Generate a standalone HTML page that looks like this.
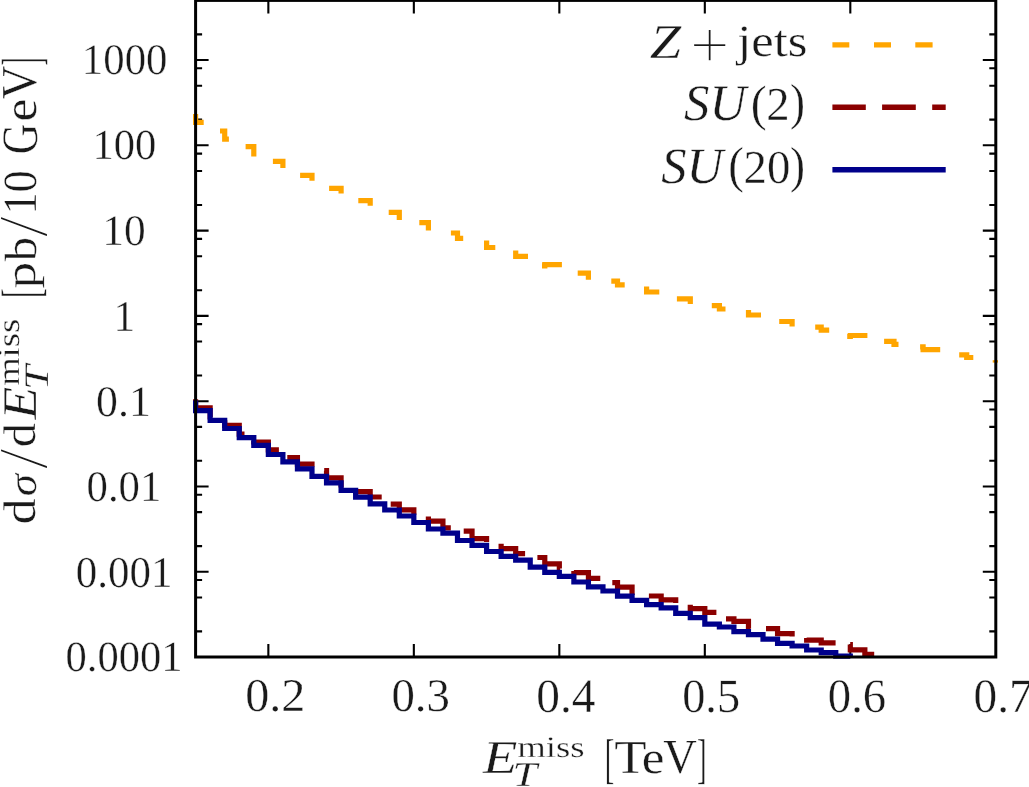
<!DOCTYPE html>
<html><head><meta charset="utf-8"><title>chart</title>
<style>html,body{margin:0;padding:0;background:#fff;overflow:hidden}svg{display:block}</style></head>
<body>
<svg width="1029" height="787" viewBox="0 0 1029 787">
<rect width="1029" height="787" fill="#fff"/>
<path d="M268.35,657.0v-13.0M268.35,0.4v13.0M413.84,657.0v-13.0M413.84,0.4v13.0M559.33,657.0v-13.0M559.33,0.4v13.0M704.82,657.0v-13.0M704.82,0.4v13.0M850.31,657.0v-13.0M850.31,0.4v13.0M195.6,60.03h13.0M995.8,60.03h-13.0M195.6,145.32h13.0M995.8,145.32h-13.0M195.6,230.61h13.0M995.8,230.61h-13.0M195.6,315.90h13.0M995.8,315.90h-13.0M195.6,401.19h13.0M995.8,401.19h-13.0M195.6,486.48h13.0M995.8,486.48h-13.0M195.6,571.77h13.0M995.8,571.77h-13.0M195.6,631.39h6.5M995.8,631.39h-6.5M195.6,597.44h6.5M995.8,597.44h-6.5M195.6,580.04h6.5M995.8,580.04h-6.5M195.6,546.10h6.5M995.8,546.10h-6.5M195.6,512.15h6.5M995.8,512.15h-6.5M195.6,494.75h6.5M995.8,494.75h-6.5M195.6,460.81h6.5M995.8,460.81h-6.5M195.6,426.86h6.5M995.8,426.86h-6.5M195.6,409.46h6.5M995.8,409.46h-6.5M195.6,375.52h6.5M995.8,375.52h-6.5M195.6,341.57h6.5M995.8,341.57h-6.5M195.6,324.17h6.5M995.8,324.17h-6.5M195.6,290.23h6.5M995.8,290.23h-6.5M195.6,256.28h6.5M995.8,256.28h-6.5M195.6,238.88h6.5M995.8,238.88h-6.5M195.6,204.94h6.5M995.8,204.94h-6.5M195.6,170.99h6.5M995.8,170.99h-6.5M195.6,153.59h6.5M995.8,153.59h-6.5M195.6,119.65h6.5M995.8,119.65h-6.5M195.6,85.70h6.5M995.8,85.70h-6.5M195.6,68.30h6.5M995.8,68.30h-6.5M195.6,34.36h6.5M995.8,34.36h-6.5" fill="none" stroke="#000" stroke-width="2.1"/>
<g fill="none" stroke="#ffa500" stroke-width="5.2" stroke-linejoin="miter">
<polyline points="195.6,113.9 195.6,122.4 203.7,122.4"/>
<polyline points="220.0,131.0 224.7,131.0 224.7,139.2 228.9,139.2"/>
<polyline points="245.6,146.6 253.8,146.6 253.8,156.6"/>
<polyline points="272.9,161.4 282.9,161.4 282.9,168.0"/>
<polyline points="300.1,175.3 312.0,175.3 312.0,180.8"/>
<polyline points="329.1,188.3 341.1,188.3 341.1,193.5"/>
<polyline points="358.3,200.6 370.2,200.6 370.2,205.7"/>
<polyline points="388.7,212.3 399.3,212.3 399.3,220.0"/>
<polyline points="419.3,222.7 428.4,222.7 428.4,230.5"/>
<polyline points="450.9,233.0 457.5,233.0 457.5,238.4 463.2,238.4"/>
<polyline points="486.6,240.4 486.6,247.5 495.3,247.5"/>
<polyline points="515.7,250.5 515.7,256.4 528.0,256.4"/>
<polyline points="542.0,265.9 544.8,265.9 544.8,264.6 561.9,264.6"/>
<polyline points="577.7,273.1 588.4,273.1 588.4,279.7"/>
<polyline points="611.3,281.2 617.5,281.2 617.5,284.8 624.7,284.8"/>
<polyline points="646.6,286.5 646.6,292.0 659.3,292.0"/>
<polyline points="676.9,298.9 690.3,298.9 690.3,304.0"/>
<polyline points="711.8,305.7 719.4,305.7 719.4,309.0 725.5,309.0"/>
<polyline points="748.5,310.0 748.5,315.0 761.0,315.0"/>
<polyline points="779.2,321.5 792.1,321.5 792.1,326.5"/>
<polyline points="815.2,327.2 821.2,327.2 821.2,330.1 829.2,330.1"/>
<polyline points="847.2,336.5 850.3,336.5 850.3,335.5 867.4,335.5"/>
<polyline points="884.1,341.4 894.0,341.4 894.0,344.3 898.5,344.3"/>
<polyline points="920.1,346.9 923.1,346.9 923.1,349.6 940.2,349.6"/>
<polyline points="959.2,354.8 966.7,354.8 966.7,357.5 973.3,357.5"/>
<path d="M992.7,361.4H998" stroke-width="2.4"/>
</g>
<path d="M195.60,399.30V407.80H210.15V417.00H224.70V425.30H239.25V434.20H253.80V442.00H268.35V449.80H282.89V457.60H297.44V464.10H311.99V470.70H326.54V477.80H341.09V485.00H355.64V491.60H370.19V497.00H384.74V504.20H399.29V509.90H413.84V516.00H428.39V521.10H442.93V527.90H457.48V531.20H472.03V538.70H486.58V543.50H501.13V548.70H515.68V553.60H530.23V557.50H544.78V563.80H559.33V568.50H573.88V572.70H588.43V578.40H602.97V582.60H617.52V587.20H632.07V595.00H646.62V596.00H661.17V599.90H675.72V604.00H690.27V608.70H704.82V612.30H719.37V618.90H733.92V621.40H748.47V628.80H763.01V628.70H777.56V633.60H792.11V637.00H806.66V640.20H821.21V642.90H835.76V644.50H850.31V649.90H864.86V654.30H879.41V657.00" fill="none" stroke="#8b0000" stroke-width="5.2" stroke-dasharray="33.8 16.2"/>
<path d="M195.60,400.60V410.60H210.15V420.30H224.70V428.50H239.25V437.60H253.80V445.40H268.35V454.50H282.89V461.80H297.44V468.80H311.99V476.30H326.54V482.80H341.09V490.30H355.64V497.10H370.19V503.80H384.74V510.00H399.29V516.00H413.84V522.50H428.39V529.00H442.93V533.20H457.48V540.50H472.03V545.30H486.58V551.50H501.13V556.40H515.68V560.10H530.23V567.10H544.78V572.40H559.33V576.30H573.88V582.00H588.43V586.80H602.97V591.00H617.52V596.10H632.07V600.40H646.62V604.60H661.17V607.80H675.72V613.40H690.27V617.60H704.82V624.10H719.37V627.00H733.92V631.60H748.47V634.60H763.01V639.10H777.56V643.40H792.11V646.00H806.66V650.00H821.21V652.70H835.76V656.10H850.31V657.00" fill="none" stroke="#00008b" stroke-width="5.2"/>
<g fill="none" stroke-width="5.4">
<path d="M832.4,44.9H849.3M874,44.9H891M915.3,44.9H932.6" stroke="#ffa500"/>
<path d="M832.4,107.3H865.8M882.1,107.3H915.8M932.2,107.3H945.7" stroke="#8b0000"/>
<path d="M832.4,169.7H945.7" stroke="#00008b"/>
</g>
<rect x="195.6" y="0.4" width="800.20" height="656.60" fill="none" stroke="#000" stroke-width="3"/>
<g style="will-change:transform;text-rendering:geometricPrecision" font-family="Liberation Serif, serif" font-size="100" fill="#1a1a1a" stroke="#fff">
<text transform="matrix(0.4279 0 0 0.4359 81.87 74.22)" stroke-width="0.83">1000</text>
<text transform="matrix(0.4258 0 0 0.4273 92.38 159.12)" stroke-width="0.84">100</text>
<text transform="matrix(0.4339 0 0 0.4353 102.34 245.25)" stroke-width="0.83">10</text>
<text transform="matrix(0.4319 0 0 0.4381 113.39 330.56)" stroke-width="0.83">1</text>
<text transform="matrix(0.4375 0 0 0.4357 96.11 415.84)" stroke-width="0.82">0.1</text>
<text transform="matrix(0.4280 0 0 0.4367 86.50 500.52)" stroke-width="0.83">0.01</text>
<text transform="matrix(0.4296 0 0 0.4392 75.82 586.64)" stroke-width="0.83">0.001</text>
<text transform="matrix(0.4259 0 0 0.4331 65.54 670.88)" stroke-width="0.84">0.0001</text>
<text transform="matrix(0.4813 0 0 0.4693 245.21 711.39)" stroke-width="0.76">0.2</text>
<text transform="matrix(0.4692 0 0 0.4682 391.38 711.44)" stroke-width="0.77">0.3</text>
<text transform="matrix(0.4735 0 0 0.4773 536.29 711.67)" stroke-width="0.76">0.4</text>
<text transform="matrix(0.4632 0 0 0.4780 682.18 711.70)" stroke-width="0.76">0.5</text>
<text transform="matrix(0.4670 0 0 0.4791 827.84 712.29)" stroke-width="0.76">0.6</text>
<text transform="matrix(0.4737 0 0 0.4788 973.44 712.25)" stroke-width="0.76">0.7</text>
<text transform="matrix(0.5633 0 0 0.4706 483.09 772.73)" font-style="italic" stroke-width="0.70">E</text>
<text transform="matrix(0.3671 0 0 0.2982 517.25 757.36)" stroke-width="1.08">miss</text>
<text transform="matrix(0.4420 0 0 0.3467 512.46 785.65)" font-style="italic" stroke-width="0.91">T</text>
<text transform="matrix(0.2849 0 0 0.5480 604.86 776.94)" stroke-width="0.86">[</text>
<text transform="matrix(0.5287 0 0 0.4722 614.18 772.62)" stroke-width="0.72">T</text>
<text transform="matrix(0.5107 0 0 0.4581 641.71 773.30)" stroke-width="0.74">e</text>
<text transform="matrix(0.4646 0 0 0.4898 663.19 773.32)" stroke-width="0.75">V</text>
<text transform="matrix(0.2873 0 0 0.5480 696.96 776.94)" stroke-width="0.86">]</text>
<text transform="matrix(0.5641 0 0 0.4860 649.80 57.75)" font-style="italic" stroke-width="0.69">Z</text>
<text transform="matrix(0.7072 0 0 0.6870 689.84 68.28)" stroke-width="2.44">+</text>
<text transform="matrix(0.5059 0 0 0.4471 737.26 56.29)" stroke-width="0.76">jets</text>
<text transform="matrix(0.5082 0 0 0.5111 684.02 119.85)" font-style="italic" stroke-width="0.71">SU</text>
<text transform="matrix(0.4774 0 0 0.4987 750.77 119.56)" stroke-width="0.74">(</text>
<text transform="matrix(0.4673 0 0 0.4741 766.20 119.72)" stroke-width="0.76">2</text>
<text transform="matrix(0.4507 0 0 0.5081 790.10 119.27)" stroke-width="0.75">)</text>
<text transform="matrix(0.5068 0 0 0.5099 661.24 182.86)" font-style="italic" stroke-width="0.71">SU</text>
<text transform="matrix(0.4675 0 0 0.5082 728.18 182.36)" stroke-width="0.74">(</text>
<text transform="matrix(0.4675 0 0 0.4707 743.57 182.78)" stroke-width="0.77">20</text>
<text transform="matrix(0.4507 0 0 0.5081 790.10 182.27)" stroke-width="0.75">)</text>
<text transform="rotate(-90) matrix(0.5221 0 0 0.4578 -524.50 35.39)" stroke-width="0.73">d</text>
<text transform="rotate(-90) matrix(0.4498 0 0 0.4058 -496.13 36.01)" font-style="italic" stroke-width="0.84">σ</text>
<text transform="rotate(-90) matrix(0.7574 0 0 0.7088 -469.20 47.36)" stroke-width="2.18">/</text>
<text transform="rotate(-90) matrix(0.4864 0 0 0.4580 -447.13 35.40)" stroke-width="0.76">d</text>
<text transform="rotate(-90) matrix(0.5348 0 0 0.4855 -419.61 35.53)" font-style="italic" stroke-width="0.71">E</text>
<text transform="rotate(-90) matrix(0.4466 0 0 0.3440 -390.04 48.38)" font-style="italic" stroke-width="0.91">T</text>
<text transform="rotate(-90) matrix(0.3653 0 0 0.3132 -385.81 19.46)" stroke-width="1.06">miss</text>
<text transform="rotate(-90) matrix(0.3036 0 0 0.5429 -298.14 38.96)" stroke-width="0.85">[</text>
<text transform="rotate(-90) matrix(0.5334 0 0 0.4296 -288.45 35.17)" stroke-width="0.75">p</text>
<text transform="rotate(-90) matrix(0.4878 0 0 0.4525 -261.18 36.26)" stroke-width="0.77">b</text>
<text transform="rotate(-90) matrix(0.7691 0 0 0.7088 -237.22 47.36)" stroke-width="2.17">/</text>
<text transform="rotate(-90) matrix(0.4432 0 0 0.4780 -214.58 36.38)" stroke-width="0.78">10</text>
<text transform="rotate(-90) matrix(0.4243 0 0 0.5112 -154.30 36.60)" stroke-width="0.77">G</text>
<text transform="rotate(-90) matrix(0.5142 0 0 0.4687 -121.61 36.40)" stroke-width="0.73">e</text>
<text transform="rotate(-90) matrix(0.4661 0 0 0.5035 -99.32 35.84)" stroke-width="0.74">V</text>
<text transform="rotate(-90) matrix(0.2543 0 0 0.5551 -65.86 40.09)" stroke-width="0.89">]</text>
</g>
</svg>
</body></html>
